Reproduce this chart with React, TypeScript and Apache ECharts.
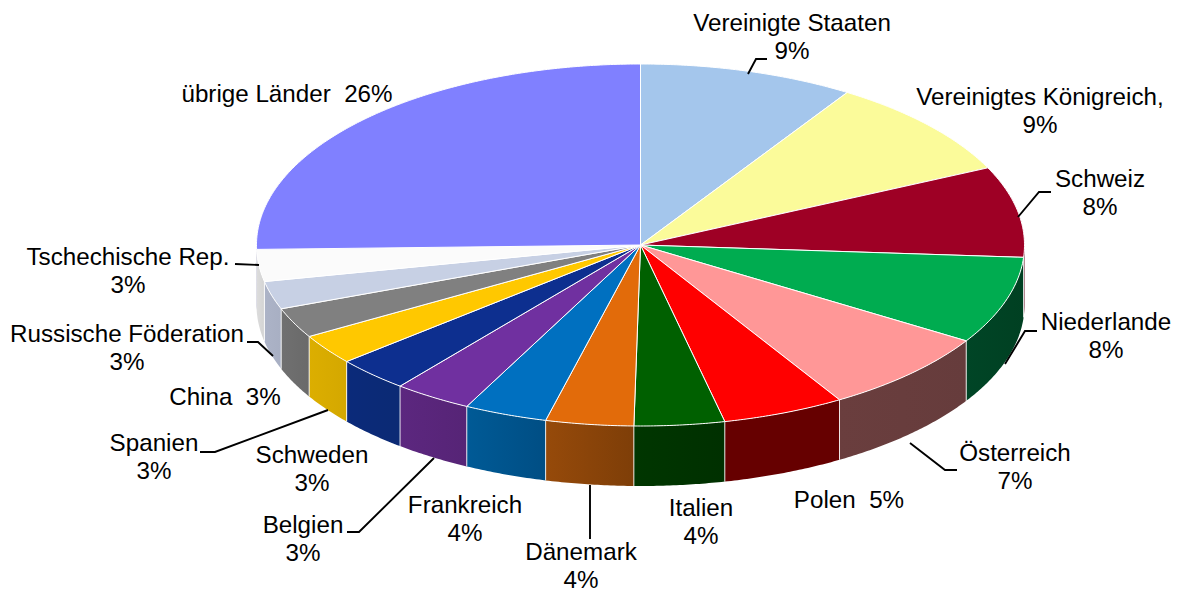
import React, { useEffect, useRef } from "react";
import * as echarts from "echarts";

const countries = [
  "Vereinigte Staaten", "Vereinigtes Königreich,", "Schweiz", "Niederlande", "Österreich", "Polen",
  "Italien", "Dänemark", "Frankreich", "Belgien", "Schweden", "Spanien", "China",
  "Russische Föderation", "Tschechische Rep.", "übrige Länder",
];
const shares = [9.05, 8.95, 8.1, 7.8, 7.45, 5.15, 3.8, 3.7, 3.5, 3.3, 3.1, 2.7, 2.7, 2.5, 2.85, 25.4];
const percentLabels = ["9%", "9%", "8%", "8%", "7%", "5%", "4%", "4%", "4%", "3%", "3%", "3%", "3%", "3%", "3%", "26%"];
const topColors = [
  "#a4c6ec", "#fbfb9a", "#9e0025", "#00ac50", "#ff9797", "#ff0000", "#006000", "#e26b0a",
  "#0070c0", "#7030a0", "#0d2f8f", "#ffc800", "#808080", "#c7d0e4", "#fbfbfb", "#8080ff",
];
const wallColorsLeft = [
  "#6d8099", "#a0a062", "#5f0016", "#004526", "#6a3e3e", "#660000", "#003600", "#964a0a",
  "#005a96", "#5c277f", "#0b2a7a", "#dcae00", "#707070", "#acb3c7", "#dcdcdc", "#4d4d99",
];
const wallColorsRight = [
  "#6d8099", "#a0a062", "#5f0016", "#004022", "#663c3c", "#660000", "#003000", "#7e3e08",
  "#004e84", "#562476", "#0b2a74", "#d4a800", "#6a6a6a", "#a8afc3", "#d4d4d4", "#4d4d99",
];

// label layout: centre x, centre y of first line
const labelAnchors = [
  [792, 22], [1040, 96], [1100, 178], [1106, 321], [1015, 452], [849, 499], [701, 507], [581, 551],
  [465, 504], [303, 524], [312, 454], [154, 442], [225, 396], [127, 333], [128, 256], [287, 93],
];
const singleLine = [5, 12, 15];
const leaders = [
  [[748, 74], [756, 59], [767, 59]],
  [[1018, 217], [1039, 192], [1051, 192]],
  [[1005, 364], [1025, 331], [1037, 331]],
  [[910, 443], [945, 470], [957, 470]],
  [[590, 485], [590, 539]],
  [[434, 458], [359, 532], [347, 532]],
  [[328, 410], [215, 452], [200, 452]],
  [[273, 356], [258, 342], [247, 342]],
  [[259, 265], [235, 264]],
];

const CX = 640.5, CY = 245, RX = 384, RY = 181, DEPTH = 60;
const total = shares.reduce((a, b) => a + b, 0);
const starts = shares.map((_, i) => (shares.slice(0, i).reduce((a, b) => a + b, 0) / total) * 360);
const ends = starts.map((s, i) => s + (shares[i] / total) * 360);
const rad = (d: number) => (d * Math.PI) / 180;
const pt = (deg: number, dy = 0): number[] => [CX + RX * Math.sin(rad(deg)), CY - RY * Math.cos(rad(deg)) + dy];
const arc = (a: number, b: number, dy = 0) => {
  const n = Math.max(2, Math.ceil((b - a) / 0.5));
  const out: number[][] = [];
  for (let i = 0; i <= n; i++) out.push(pt(a + ((b - a) * i) / n, dy));
  return out;
};

const renderWall = (params: any) => {
  const i = params.dataIndex;
  const a = Math.max(starts[i], 90), b = Math.min(ends[i], 270);
  if (b <= a) return { type: "group", children: [] };
  const top = arc(a, b);
  const bottom = arc(a, b, DEPTH).reverse();
  const edge = (d: number) => ({
    type: "line",
    shape: { x1: pt(d)[0], y1: pt(d)[1], x2: pt(d)[0], y2: pt(d)[1] + DEPTH },
    style: { stroke: "#ffffff", lineWidth: 1, opacity: 0.85 },
  });
  const kids: any[] = [
    {
      type: "polygon",
      shape: { points: top.concat(bottom) },
      style: {
        fill: new echarts.graphic.LinearGradient(0, 0, 1, 0, [
          { offset: 0, color: wallColorsLeft[i] },
          { offset: 1, color: wallColorsRight[i] },
        ]),
      },
    },
  ];
  if (starts[i] > 90 && starts[i] < 262) kids.push(edge(starts[i]));
  return { type: "group", children: kids };
};

const renderTop = (params: any) => {
  const i = params.dataIndex;
  return {
    type: "polygon",
    shape: { points: [[CX, CY], ...arc(starts[i], ends[i])] },
    style: { fill: topColors[i], stroke: "#ffffff", lineWidth: 1, lineJoin: "round" },
  };
};

export default function App() {
  const ref = useRef<HTMLDivElement>(null);
  useEffect(() => {
    const chart = echarts.init(ref.current!, undefined, { renderer: "svg" });
    const data = countries.map((name, i) => ({ name, value: shares[i] }));
    const textEls = countries.map((name, i) => ({
      type: "text",
      z: 20,
      style: {
        x: labelAnchors[i][0],
        y: labelAnchors[i][1] - 14,
        text: singleLine.includes(i) ? `${name}  ${percentLabels[i]}` : `${name}\n${percentLabels[i]}`,
        align: "center",
        verticalAlign: "top",
        font: '24.2px "Liberation Sans", Arial, sans-serif',
        lineHeight: 28,
        fill: "#000000",
      },
    }));
    const lineEls = leaders.map((points) => ({
      type: "polyline",
      z: 20,
      shape: { points },
      style: { stroke: "#000000", lineWidth: 1.9, fill: "none" },
    }));
    chart.setOption({
      animation: false,
      backgroundColor: "#ffffff",
      tooltip: { show: false },
      series: [
        { type: "custom", coordinateSystem: "none", renderItem: renderWall, data, z: 2, silent: true },
        { type: "custom", coordinateSystem: "none", renderItem: renderTop, data, z: 3, silent: true },
      ],
      graphic: { elements: [...lineEls, ...textEls] },
    });
    return () => chart.dispose();
  }, []);
  return <div ref={ref} style={{ position: "absolute", left: 0, top: 0, width: 1177, height: 592 }} />;
}
